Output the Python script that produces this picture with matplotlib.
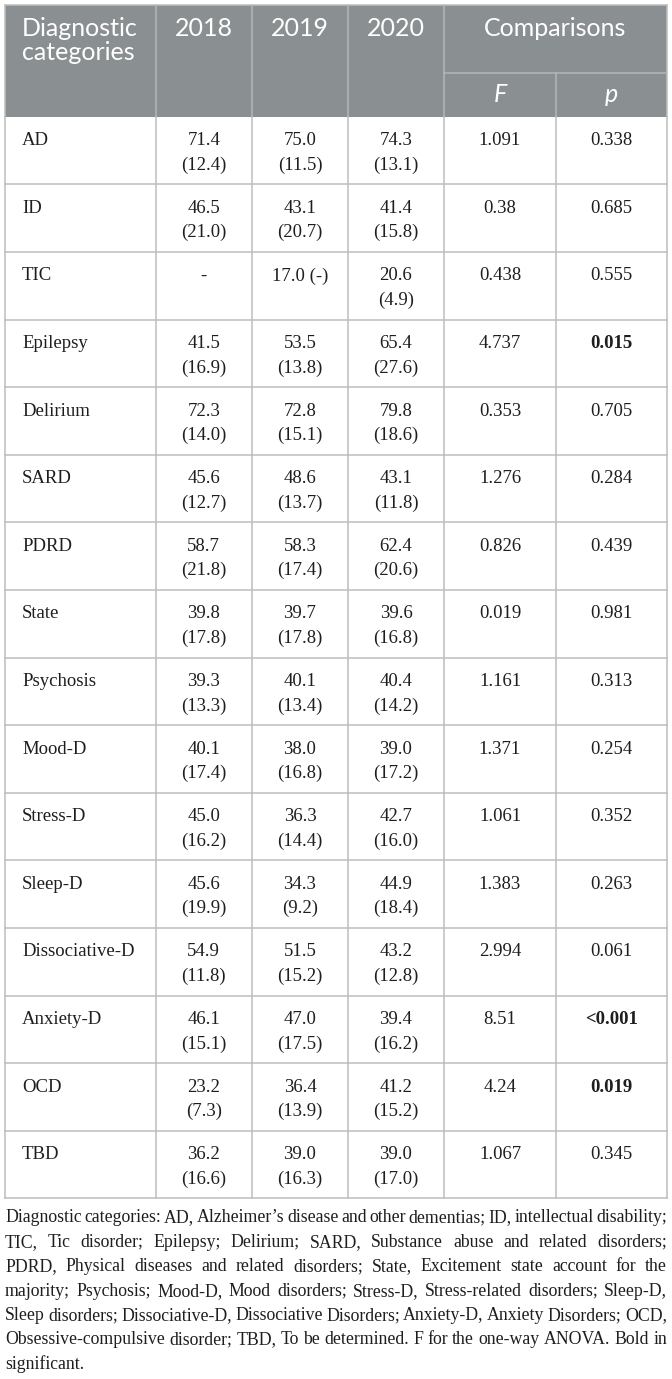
import matplotlib
matplotlib.use("Agg")
import matplotlib.pyplot as plt
from matplotlib.patches import Rectangle

# ---- table data ----
categories = ["AD", "ID", "TIC", "Epilepsy", "Delirium", "SARD", "PDRD", "State",
              "Psychosis", "Mood-D", "Stress-D", "Sleep-D", "Dissociative-D",
              "Anxiety-D", "OCD", "TBD"]
mean_2018 = [71.4, 46.5, None, 41.5, 72.3, 45.6, 58.7, 39.8, 39.3, 40.1, 45.0, 45.6, 54.9, 46.1, 23.2, 36.2]
sd_2018 = [12.4, 21.0, None, 16.9, 14.0, 12.7, 21.8, 17.8, 13.3, 17.4, 16.2, 19.9, 11.8, 15.1, 7.3, 16.6]
mean_2019 = [75.0, 43.1, 17.0, 53.5, 72.8, 48.6, 58.3, 39.7, 40.1, 38.0, 36.3, 34.3, 51.5, 47.0, 36.4, 39.0]
sd_2019 = [11.5, 20.7, None, 13.8, 15.1, 13.7, 17.4, 17.8, 13.4, 16.8, 14.4, 9.2, 15.2, 17.5, 13.9, 16.3]
mean_2020 = [74.3, 41.4, 20.6, 65.4, 79.8, 43.1, 62.4, 39.6, 40.4, 39.0, 42.7, 44.9, 43.2, 39.4, 41.2, 39.0]
sd_2020 = [13.1, 15.8, 4.9, 27.6, 18.6, 11.8, 20.6, 16.8, 14.2, 17.2, 16.0, 18.4, 12.8, 16.2, 15.2, 17.0]
f_vals = ["1.091", "0.38", "0.438", "4.737", "0.353", "1.276", "0.826", "0.019",
          "1.161", "1.371", "1.061", "1.383", "2.994", "8.51", "4.24", "1.067"]
p_vals = ["0.338", "0.685", "0.555", "0.015", "0.705", "0.284", "0.439", "0.981",
          "0.313", "0.254", "0.352", "0.263", "0.061", "<0.001", "0.019", "0.345"]
p_bold = ["Epilepsy", "Anxiety-D", "OCD"]
years = ["2018", "2019", "2020"]

footnote_lines = [
    "Diagnostic categories: AD, Alzheimer\u2019s disease and other dementias; ID, intellectual disability;",
    "TIC, Tic disorder; Epilepsy; Delirium; SARD, Substance abuse and related disorders;",
    "PDRD, Physical diseases and related disorders; State, Excitement state account for the",
    "majority; Psychosis; Mood-D, Mood disorders; Stress-D, Stress-related disorders; Sleep-D,",
    "Sleep disorders; Dissociative-D, Dissociative Disorders; Anxiety-D, Anxiety Disorders; OCD,",
    "Obsessive-compulsive disorder; TBD, To be determined. F for the one-way ANOVA. Bold in",
    "significant.",
]

# ---- layout (pixels) ----
W, H = 672, 1379
col_x = [5, 155.5, 252, 348, 444, 556, 667]
top, sub_y, head_bot = 5, 73.3, 116.7
row_h = 67.6
head_col = "#8a8f91"
head_line = "#b3b7b9"
grid_col = "#bdbdbd"
txt_col = "#1e1e1e"
serif = "Liberation Serif"
sans = "Lato"

fig = plt.figure(figsize=(W / 100, H / 100), dpi=100)
ax = fig.add_axes([0, 0, 1, 1])
ax.set_xlim(0, W)
ax.set_ylim(H, 0)
ax.axis("off")

# header block
ax.add_patch(Rectangle((col_x[0], top), col_x[-1] - col_x[0], head_bot - top,
                       facecolor=head_col, edgecolor="none", zorder=1))
for x in col_x[1:-1]:
    y0 = sub_y if x == col_x[5] else top
    ax.plot([x, x], [y0, head_bot], color=head_line, lw=1.1, zorder=2)
ax.plot([col_x[4], col_x[6]], [sub_y, sub_y], color=head_line, lw=1.1, zorder=2)

hkw = dict(color="white", fontsize=18, family=sans, zorder=3)
ax.text(22, 28, "Diagnostic", ha="left", va="center", **hkw)
ax.text(22, 53, "categories", ha="left", va="center", **hkw)
for i, yr in enumerate(years):
    ax.text((col_x[i + 1] + col_x[i + 2]) / 2, 28, yr, ha="center", va="center", **hkw)
ax.text((col_x[4] + col_x[6]) / 2, 28, "Comparisons", ha="center", va="center", **hkw)
ax.text((col_x[4] + col_x[5]) / 2, 95, "F", ha="center", va="center", style="italic", **hkw)
ax.text((col_x[5] + col_x[6]) / 2, 95, "p", ha="center", va="center", style="italic", **hkw)

# body
n = len(categories)
bottom = head_bot + n * row_h
bkw = dict(color=txt_col, fontsize=13.5, family=serif, zorder=3)


def cell_text(m, s):
    if m is None:
        return ["-"]
    if s is None:
        return ["%.1f (-)" % m]
    return ["%.1f" % m, "(%.1f)" % s]


for r, cat in enumerate(categories):
    y = head_bot + r * row_h
    ax.text(22, y + 24, cat, ha="left", va="center", **bkw)
    for c, (mv, sv) in enumerate([(mean_2018, sd_2018), (mean_2019, sd_2019), (mean_2020, sd_2020)]):
        xc = (col_x[c + 1] + col_x[c + 2]) / 2
        for k, line in enumerate(cell_text(mv[r], sv[r])):
            ax.text(xc, y + 24 + k * 24.5, line, ha="center", va="center", **bkw)
    ax.text((col_x[4] + col_x[5]) / 2, y + 24, f_vals[r], ha="center", va="center", **bkw)
    ax.text((col_x[5] + col_x[6]) / 2, y + 24, p_vals[r], ha="center", va="center",
            weight="bold" if cat in p_bold else "normal", **bkw)
    if r > 0:
        ax.plot([col_x[0], col_x[-1]], [y, y], color=grid_col, lw=1.1, zorder=2)

ax.plot([col_x[0], col_x[-1]], [bottom, bottom], color=grid_col, lw=1.1, zorder=2)
for x in col_x:
    ax.plot([x, x], [head_bot, bottom], color=grid_col, lw=1.1, zorder=2)
ax.plot([col_x[0], col_x[-1]], [top, top], color=grid_col, lw=1.1, zorder=2)
ax.plot([col_x[0], col_x[0]], [top, head_bot], color=grid_col, lw=1.1, zorder=2)
ax.plot([col_x[-1], col_x[-1]], [top, head_bot], color=grid_col, lw=1.1, zorder=2)

# footnote, justified
fkw = dict(color=txt_col, fontsize=12.8, family=serif, va="center", ha="left")
renderer = fig.canvas.get_renderer()
left, right = 5, 667
for i, line in enumerate(footnote_lines):
    yy = 1218 + i * 24.4
    words = line.split(" ")
    if i == len(footnote_lines) - 1:
        ax.text(left, yy, line, **fkw)
        continue
    objs = [ax.text(0, yy, w, **fkw) for w in words]
    widths = [o.get_window_extent(renderer).width for o in objs]
    gap = max((right - left - sum(widths)) / (len(words) - 1), 2.0)
    x = left
    for o, w in zip(objs, widths):
        o.set_x(x)
        x += w + gap

fig.savefig("out.png", dpi=100)
